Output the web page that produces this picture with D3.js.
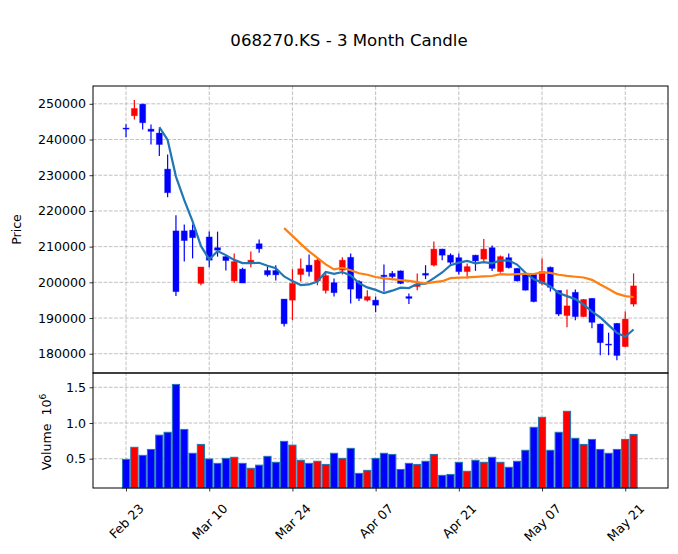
<!DOCTYPE html>
<html lang="en">
<head>
<meta charset="UTF-8">
<title>068270.KS - 3 Month Candle</title>
<script src="https://d3js.org/d3.v7.min.js"></script>
<style>
  body { margin: 0; background: #fff; }
  svg { display: block; }
  text { font-family: "DejaVu Sans", sans-serif; fill: #000; }
  .grid line { stroke: #b0b0b0; stroke-width: 0.8; stroke-dasharray: 3.7,1.6; }
  .axis text { font-size: 12.6px; }
  .axis line { stroke: #000; stroke-width: 0.8; }
  .frame { fill: none; stroke: #000; stroke-width: 1; }
</style>
</head>
<body>
<script>
// daily OHLC (trading-day index 0..61)
const opens  = [243200,246650,249900,242900,241800,231700,214400,214400,214600,199700,
                212700,209700,207200,200400,203700,205600,210800,203300,203300,195300,
                195000,202200,204800,200400,197700,199900,203400,207000,200200,195000,
                195000,202000,202500,203200,196000,198800,202500,204800,209300,207600,
                206900,203000,207600,206500,209700,203000,206900,203900,202500,202200,
                199700,204200,197700,190700,197200,190400,195500,188300,182700,188500,
                182000,193900];
const highs  = [244300,251100,250000,244200,243100,235800,218800,216200,216200,204300,
                214200,214200,207600,208100,204100,208600,212000,204400,204800,195300,
                203700,206700,207800,206700,203000,201100,207000,208100,200600,197800,
                196000,205000,203200,203300,196900,202500,204800,211400,209400,208100,
                208100,205300,207700,212100,210300,207500,208100,204000,202700,202400,
                206700,204400,197700,198000,198000,195300,195600,188500,185900,188600,
                191800,202500];
const lows   = [240600,245600,242800,238600,235400,223800,196200,205800,206700,199200,
                204200,207200,203300,199900,199800,204200,208300,201600,200500,187600,
                189400,200200,201600,199200,196900,196000,202200,194100,194800,194600,
                191600,197400,200600,199500,193900,197800,200900,204400,206200,204800,
                202200,201100,203200,205800,203200,202700,203900,200200,197700,194400,
                199200,197400,190600,187400,189400,190300,187100,179600,179600,178200,
                181900,193200];
const closes = [243000,248700,244700,242300,238600,225100,197400,211700,212500,204300,
                206200,209000,206100,205800,199800,206200,209400,202100,202100,188400,
                199700,203800,203000,206200,201900,197100,206200,198100,195500,196000,
                193600,201600,201600,199700,195500,199400,202000,209300,207600,205600,
                203000,204400,206000,209300,203900,207200,204100,200400,197800,194600,
                203000,198600,191100,193400,190400,195200,188800,183100,182600,179500,
                189700,199000];
const volumes = [490000,660000,547000,630000,830000,870000,1540000,910000,576000,700000,
                 496000,435000,505000,520000,435000,366000,410000,533000,450000,743000,
                 690000,478000,435000,464000,420000,576000,505000,645000,295000,337000,
                 505000,576000,560000,350000,435000,420000,464000,560000,267000,280000,
                 450000,324000,478000,450000,520000,450000,380000,464000,618000,940000,
                 1080000,618000,870000,1164000,786000,700000,770000,630000,576000,630000,
                 770000,840000];

const tickIdx = [0, 10, 20, 30, 40, 50, 60];
const tickLabels = ["Feb 23", "Mar 10", "Mar 24", "Apr 07", "Apr 21", "May 07", "May 21"];
const priceTicks = [180000, 190000, 200000, 210000, 220000, 230000, 240000, 250000];
const volTicks = [500000, 1000000, 1500000];
const mavs = [5, 20];
const mavColors = ["#1f77b4", "#ff7f0e"];

const width = 678, height = 554;
const left = 93, right = 668;
const priceTop = 86, priceBottom = 373;
const volTop = 373, volBottom = 488;
const upColor = "#ff0000", downColor = "#0000ff";

let svg = d3.select("body").append("svg")
    .attr("width", width)
    .attr("height", height);

const x = d3.scaleLinear().domain([-3.97, 65.14]).range([left, right]);
const yPrice = d3.scaleLinear().domain([174600, 254990]).range([priceBottom, priceTop]);
const yVol = d3.scaleLinear().domain([90000, 1700000]).range([volBottom, volTop]);

const step = x(1) - x(0);
const n = closes.length;
const idx = d3.range(n);
const isUp = i => closes[i] >= opens[i];

// title
svg.append("text")
    .attr("x", 349).attr("y", 46)
    .attr("text-anchor", "middle")
    .style("font-size", "16.6px")
    .text("068270.KS - 3 Month Candle");

// grid
let grid = svg.append("g").attr("class", "grid");
grid.selectAll("line.hp").data(priceTicks).enter().append("line")
    .attr("x1", left).attr("x2", right)
    .attr("y1", d => yPrice(d)).attr("y2", d => yPrice(d));
grid.selectAll("line.hv").data(volTicks).enter().append("line")
    .attr("x1", left).attr("x2", right)
    .attr("y1", d => yVol(d)).attr("y2", d => yVol(d));
grid.selectAll("line.vp").data(tickIdx).enter().append("line")
    .attr("x1", d => x(d)).attr("x2", d => x(d))
    .attr("y1", priceTop).attr("y2", volBottom);

// volume bars
const volW = step * 0.86;
svg.append("g").selectAll("rect").data(idx).enter().append("rect")
    .attr("x", i => x(i) - volW / 2)
    .attr("width", volW)
    .attr("y", i => yVol(volumes[i]))
    .attr("height", i => volBottom - yVol(volumes[i]))
    .attr("fill", i => isUp(i) ? upColor : downColor)
    .attr("stroke", "#1f77b4")
    .attr("stroke-width", 1);

// candles
let gCandles = svg.append("g");
gCandles.selectAll("line").data(idx).enter().append("line")
    .attr("x1", i => x(i)).attr("x2", i => x(i))
    .attr("y1", i => yPrice(highs[i])).attr("y2", i => yPrice(lows[i]))
    .attr("stroke", i => isUp(i) ? upColor : downColor)
    .attr("stroke-width", 1.2);

const bodyW = step * 0.72;
gCandles.selectAll("rect").data(idx).enter().append("rect")
    .attr("x", i => x(i) - bodyW / 2)
    .attr("width", bodyW)
    .attr("y", i => yPrice(Math.max(opens[i], closes[i])))
    .attr("height", i => Math.max(1, Math.abs(yPrice(opens[i]) - yPrice(closes[i]))))
    .attr("fill", i => isUp(i) ? upColor : downColor)
    .attr("stroke", i => isUp(i) ? upColor : downColor)
    .attr("stroke-opacity", 0.35)
    .attr("stroke-width", 1);

// moving averages of the close, same windows as mav=(5,20)
mavs.forEach((w, k) => {
    const ma = idx.map(i => i < w - 1 ? null : d3.mean(closes.slice(i - w + 1, i + 1)));
    svg.append("path")
        .datum(idx)
        .attr("fill", "none")
        .attr("stroke", mavColors[k])
        .attr("stroke-width", 2.2)
        .attr("d", d3.line()
            .defined(i => ma[i] != null)
            .x(i => x(i))
            .y(i => yPrice(ma[i]))
            .curve(d3.curveLinear));
});

// axes
let priceAxis = svg.append("g").attr("class", "axis")
    .attr("transform", `translate(${left},0)`)
    .call(d3.axisLeft(yPrice).tickValues(priceTicks).tickFormat(d3.format("d"))
        .tickSize(3.5).tickPadding(3.5));
priceAxis.select(".domain").remove();

let volAxis = svg.append("g").attr("class", "axis")
    .attr("transform", `translate(${left},0)`)
    .call(d3.axisLeft(yVol).tickValues(volTicks).tickFormat(d => d3.format(".1f")(d / 1e6))
        .tickSize(3.5).tickPadding(3.5));
volAxis.select(".domain").remove();

let xAxis = svg.append("g").attr("class", "axis")
    .attr("transform", `translate(0,${volBottom})`)
    .call(d3.axisBottom(x).tickValues(tickIdx).tickFormat((d, i) => tickLabels[i])
        .tickSize(3.5));
xAxis.select(".domain").remove();
xAxis.selectAll("text")
    .attr("y", 0).attr("dy", "0.35em")
    .attr("text-anchor", "middle")
    .attr("transform", function () {
        const len = this.getComputedTextLength();
        const half = (len + 9.2) * Math.SQRT1_2 / 2;
        return `translate(0,${15 + half}) rotate(-45)`;
    });

// axis labels
svg.append("text")
    .attr("transform", `translate(21,${(priceTop + priceBottom) / 2}) rotate(-90)`)
    .attr("text-anchor", "middle")
    .style("font-size", "12.6px")
    .text("Price");

let vLabel = svg.append("text")
    .attr("transform", `translate(50.5,432) rotate(-90)`)
    .attr("text-anchor", "middle")
    .style("font-size", "12.6px");
vLabel.append("tspan").text("Volume\u00a0\u00a010");
vLabel.append("tspan").attr("dy", "-0.45em").style("font-size", "9px").text("6");

// frames
svg.append("rect").attr("class", "frame")
    .attr("x", left).attr("y", priceTop)
    .attr("width", right - left).attr("height", priceBottom - priceTop);
svg.append("rect").attr("class", "frame")
    .attr("x", left).attr("y", volTop)
    .attr("width", right - left).attr("height", volBottom - volTop);
</script>
</body>
</html>
